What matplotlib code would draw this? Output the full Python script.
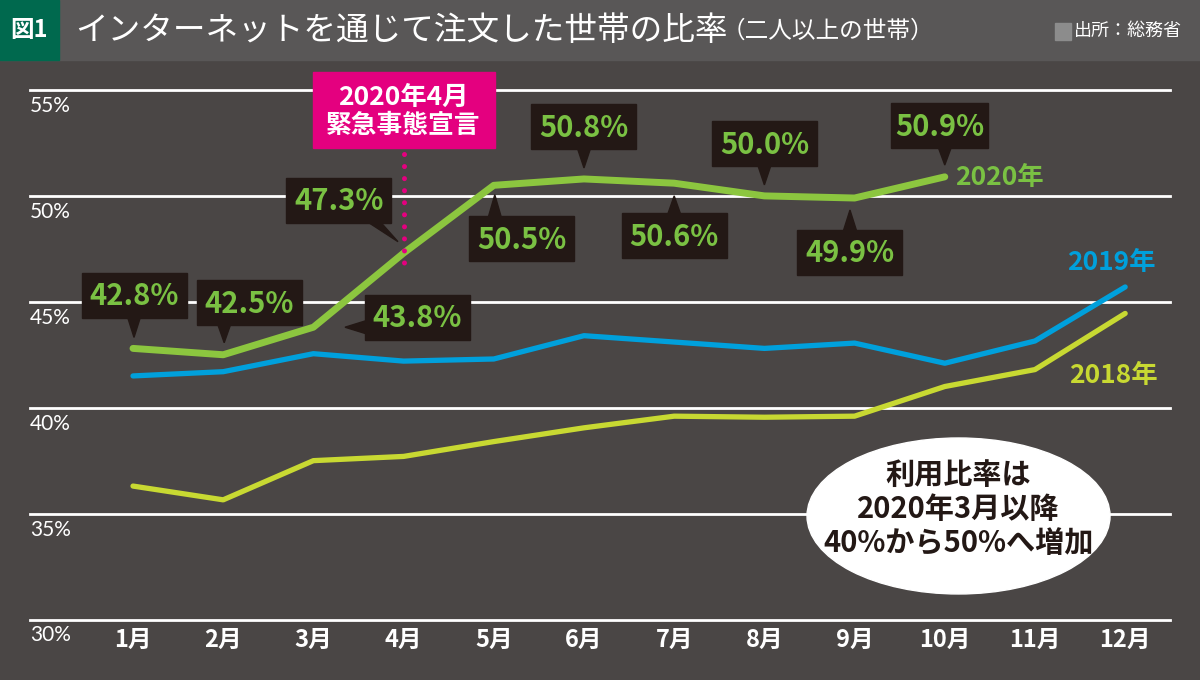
import matplotlib
matplotlib.use('Agg')
import matplotlib.pyplot as plt
import matplotlib.transforms as mtrans
from matplotlib.patches import Rectangle, Polygon, Ellipse

plt.rcParams['font.family'] = ['Noto Sans CJK JP', 'DejaVu Sans']

# data
months = ['1月', '2月', '3月', '4月', '5月', '6月', '7月', '8月', '9月', '10月', '11月', '12月']
rate_2018 = [36.3, 35.65, 37.5, 37.7, 38.4, 39.05, 39.6, 39.55, 39.6, 41.0, 41.8, 44.45]
rate_2019 = [41.5, 41.7, 42.55, 42.2, 42.3, 43.4, 43.1, 42.8, 43.05, 42.1, 43.15, 45.7]
rate_2020 = [42.8, 42.5, 43.8, 47.3, 50.5, 50.8, 50.6, 50.0, 49.9, 50.9]
y_ticks = [30, 35, 40, 45, 50, 55]

# callout layout in pixels relative to each 2020 point (y up):
# box centre dx, dy, box width, side of pointer, pointer base offset, tip dx, tip dy
callout_layout = [
    (1.5, 53, 105, 'bottom', 1, 1, 11),
    (26, 52, 105, 'bottom', 1, 1, 12),
    (104, 10, 105, 'left', 0, 31.6, 0),
    (-65, 53, 105, 'bottom', -30, -5.6, 11.4),
    (28, -53.4, 105, 'top', 1, 1, -9.4),
    (0, 52, 105, 'bottom', 0, 0, 11),
    (0, -52.7, 105, 'top', 0, 0, -12.7),
    (0, 52, 105, 'bottom', 0, 0, 11),
    (-4.6, -54, 105, 'top', -4.6, -4.6, -12),
    (-5, 51, 97, 'bottom', 0, 0, 11.8),
]

BG = '#4a4645'
HEAD = '#595757'
DARK = '#231815'
GREEN = '#8cc63f'
GREEN_TXT = '#7ac143'
BLUE = '#00a0dc'
YELLOW = '#c8d932'
PINK = '#e4007f'

fig = plt.figure(figsize=(12, 6.8), dpi=100, facecolor=BG)
ax = fig.add_axes([30 / 1200, 60.5 / 680, 1140 / 1200, 529.5 / 680])
ax.set_facecolor(BG)
ax.axis('off')
ax.set_xlim(-0.142, 12.497)
ax.set_ylim(30, 55)

x = list(range(1, 13))

# header band
fig.add_artist(Rectangle((0, 620 / 680), 1, 60 / 680, transform=fig.transFigure,
                         color=HEAD, zorder=0))
fig.add_artist(Rectangle((0, 620 / 680), 59 / 1200, 60 / 680, transform=fig.transFigure,
                         color='#00694e', zorder=1))
fig.text(29.5 / 1200, 650 / 680, '図1', color='white', fontsize=17, fontweight='bold',
         ha='center', va='center')
title = fig.text(75 / 1200, 649 / 680, 'インターネットを通じて注文した世帯の比率', color='white',
                 fontsize=23.5, ha='left', va='center')
ax.annotate('（二人以上の世帯）', xy=(1, 0.5), xycoords=title, xytext=(-6, 0),
            textcoords='offset pixels', color='white', fontsize=17, ha='left', va='center')
fig.add_artist(Rectangle((1055 / 1200, 640 / 680), 16 / 1200, 17 / 680,
                         transform=fig.transFigure, color='#8c8c8c', zorder=1))
fig.text(1074 / 1200, 649 / 680, '出所：総務省', color='white', fontsize=13,
         ha='left', va='center')

# grid lines and tick labels
for v in y_ticks:
    ax.axhline(v, color='white', lw=2, clip_on=False, zorder=1)
    ax.text(-0.142, v - 0.28, f'{v}%', color='white', fontsize=15,
            family=['Lato', 'DejaVu Sans'], ha='left', va='top')
for xi, lab in zip(x, months):
    ax.text(xi, 29.05, lab, color='white', fontsize=17, fontweight='bold',
            ha='center', va='center')

# series
ax.plot(x, rate_2018, color=YELLOW, lw=3.8, solid_capstyle='round', zorder=3)
ax.plot(x, rate_2019, color=BLUE, lw=3.8, solid_capstyle='round', zorder=3)
ax.plot(x[:len(rate_2020)], rate_2020, color=GREEN, lw=5, solid_capstyle='round', zorder=4)

ax.annotate('2020年', xy=(10, rate_2020[-1]), xytext=(10, -1), textcoords='offset pixels',
            color=GREEN_TXT, fontsize=19, fontweight='bold', ha='left', va='center')
ax.annotate('2019年', xy=(12, rate_2019[-1]), xytext=(-14, 24), textcoords='offset pixels',
            color=BLUE, fontsize=19, fontweight='bold', ha='center', va='center')
ax.annotate('2018年', xy=(12, rate_2018[-1]), xytext=(-12, -62), textcoords='offset pixels',
            color=YELLOW, fontsize=19, fontweight='bold', ha='center', va='center')


def px_trans(xd, yd):
    return (mtrans.Affine2D().scale(1 / 100) + fig.dpi_scale_trans
            + mtrans.ScaledTranslation(xd, yd, ax.transData))


# callouts
box_h = 45
hw = 6.5
for xi, v, lay in zip(x, rate_2020, callout_layout):
    bx, by, w, side, bo, tx, ty = lay
    t = px_trans(xi, v)
    ax.add_patch(Rectangle((bx - w / 2, by - box_h / 2), w, box_h, transform=t,
                           color=DARK, zorder=6, clip_on=False))
    if side == 'bottom':
        yb = by - box_h / 2 + 1
        pts = [(bo - hw, yb), (bo + hw, yb), (tx, ty)]
    elif side == 'top':
        yb = by + box_h / 2 - 1
        pts = [(bo - hw, yb), (bo + hw, yb), (tx, ty)]
    else:
        xb = bx - w / 2 + 1
        pts = [(xb, bo - hw), (xb, bo + hw), (tx, ty)]
    ax.add_patch(Polygon(pts, closed=True, transform=t, color=DARK, zorder=6, clip_on=False))
    ax.text(bx, by - 1, f'{v:.1f}%', transform=t, color=GREEN_TXT, fontsize=21,
            fontweight='bold', ha='center', va='center', zorder=7)

# state of emergency marker
t4 = px_trans(4, 55)
ax.add_patch(Rectangle((-91, -58), 182, 76, transform=t4, color=PINK, zorder=6, clip_on=False))
ax.text(0, -7, '2020年4月', transform=t4, color='white', fontsize=19, fontweight='bold',
        ha='center', va='center', zorder=7)
ax.text(0, -36, '緊急事態宣言', transform=t4, color='white', fontsize=18.5, fontweight='bold',
        ha='center', va='center', zorder=7)
ax.plot([4, 4], [52.0, 46.3], color=PINK, lw=3.6, linestyle=(0, (0.01, 2.4)),
        dash_capstyle='round', zorder=5)

# note ellipse
ax.add_patch(Ellipse((0.8145, 0.1955), 0.2658, 0.2946, transform=ax.transAxes,
                     color='white', zorder=5))
ax.text(0.8145, 0.2087, '利用比率は\n2020年3月以降\n40%から50%へ増加', transform=ax.transAxes,
        color=DARK, fontsize=21, fontweight='bold', ha='center', va='center',
        linespacing=1.15, zorder=6)

plt.savefig('out.png', dpi=100, facecolor=BG)
